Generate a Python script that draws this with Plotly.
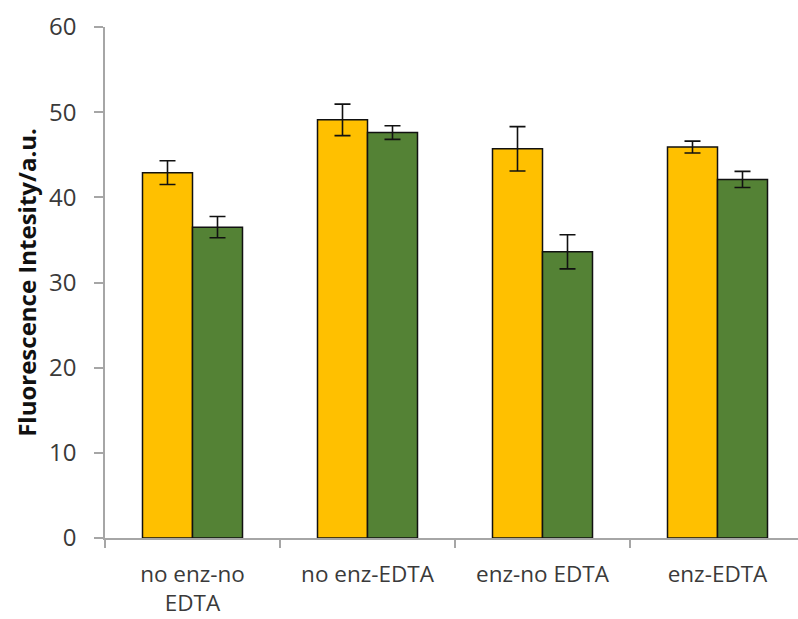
import plotly.graph_objects as go

# Conditions on the category axis
categories = ["no enz-no<br>EDTA", "no enz-EDTA", "enz-no EDTA", "enz-EDTA"]

# Mean fluorescence intensity and error for each series
series_a = [42.9, 49.1, 45.7, 45.9]
series_a_err = [1.4, 1.85, 2.6, 0.7]
series_b = [36.5, 47.6, 33.6, 42.1]
series_b_err = [1.25, 0.8, 2.0, 0.95]

y_ticks = [0, 10, 20, 30, 40, 50, 60]

text_color = "#3a3a3a"
axis_color = "#a6a6a6"

fig = go.Figure()

for vals, errs, color, name in [
    (series_a, series_a_err, "#FFC000", "series_a"),
    (series_b, series_b_err, "#548235", "series_b"),
]:
    fig.add_trace(go.Bar(
        x=categories,
        y=vals,
        name=name,
        marker=dict(color=color, line=dict(color="#111111", width=1.5)),
        error_y=dict(type="data", array=errs, visible=True,
                     color="#111111", thickness=1.6, width=8),
    ))

fig.update_layout(
    width=798,
    height=619,
    margin=dict(l=105, r=0, t=27, b=81),
    paper_bgcolor="white",
    plot_bgcolor="white",
    barmode="group",
    bargap=0.4286,
    bargroupgap=0,
    showlegend=False,
    font=dict(family="Open Sans", color=text_color),
)

fig.update_xaxes(
    type="category",
    range=[-0.5, 3.46],
    showline=True,
    linecolor=axis_color,
    linewidth=1.5,
    ticks="outside",
    tickson="boundaries",
    ticklen=8,
    tickcolor=axis_color,
    tickwidth=1.5,
    tickfont=dict(family="Open Sans", size=22.5, color=text_color),
    ticklabelstandoff=15,
    showgrid=False,
    zeroline=False,
)

fig.update_yaxes(
    range=[0, 60],
    tickvals=y_ticks,
    showline=True,
    linecolor=axis_color,
    linewidth=1.5,
    ticks="outside",
    ticklen=9,
    tickcolor=axis_color,
    tickwidth=1.5,
    tickfont=dict(family="Open Sans", size=24, color=text_color),
    ticklabelstandoff=13,
    showgrid=False,
    zeroline=False,
    title=dict(
        text="<b>Fluorescence Intesity/a.u.</b>",
        font=dict(family="Open Sans", size=24, color="#111111"),
        standoff=6,
    ),
)

fig.write_html("out.html")
